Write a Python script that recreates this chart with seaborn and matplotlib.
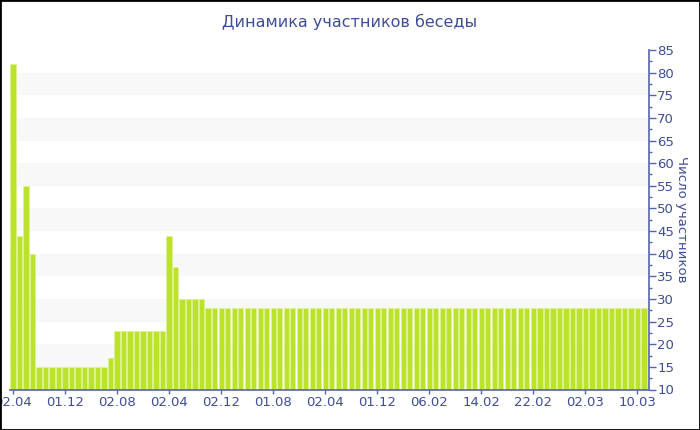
import matplotlib
matplotlib.use("Agg")
import matplotlib.pyplot as plt
import seaborn as sns
import pandas as pd
import numpy as np
from matplotlib.ticker import MultipleLocator
from matplotlib.patches import Rectangle

title = "Динамика участников беседы"
ylabel = "Число участников"

values = ([82, 44, 55, 40] + [15] * 11 + [17] + [23] * 8 + [44, 37] + [30] * 4 + [28] * 68)
tick_labels = ["02.04", "01.12", "02.08", "02.04", "02.12", "01.08", "02.04",
               "01.12", "06.02", "14.02", "22.02", "02.03", "10.03"]
tick_step = 8

sns.set_theme(style="white")
plt.rcParams['font.family'] = ['DejaVu Sans']

axis_color = "#5566a8"
text_color = "#3d4d96"
bar_color = "#bde22c"

df = pd.DataFrame({"idx": np.arange(len(values)), "value": values})

fig = plt.figure(figsize=(7, 4.3), dpi=100)
ax = fig.add_axes([10 / 700, 40.5 / 430, 639 / 700, 339.5 / 430])

# alternating bands
for lo in range(15, 85, 10):
    ax.axhspan(lo, lo + 5, color="#f8f8f8", zorder=0, lw=0)

sns.barplot(data=df, x="idx", y="value", color=bar_color, saturation=1,
            width=0.8, ax=ax, edgecolor="#dcf290", linewidth=0.5, zorder=2)

ax.set_ylim(10, 85)
ax.set_xlim(-0.45, len(values) - 1 + 0.77)
ax.yaxis.tick_right()
ax.yaxis.set_label_position("right")
ax.yaxis.set_major_locator(MultipleLocator(5))
ax.yaxis.set_minor_locator(MultipleLocator(2.5))
ax.set_xticks(np.arange(0, len(values), tick_step)[:len(tick_labels)])
ax.set_xticklabels(tick_labels)
ax.set_xlabel("")
ax.set_ylabel(ylabel, rotation=270, labelpad=10, color=text_color, fontsize=9.5)

for s in ["top", "left"]:
    ax.spines[s].set_visible(False)
for s in ["bottom", "right"]:
    ax.spines[s].set_visible(True)
    ax.spines[s].set_color(axis_color)
    ax.spines[s].set_linewidth(1.2)

ax.tick_params(axis="y", which="major", length=5, width=1, color=axis_color,
               labelcolor=text_color, labelsize=9.5, pad=1, right=True, left=False)
ax.tick_params(axis="y", which="minor", length=2.5, width=1, color=axis_color, right=True, left=False)
ax.tick_params(axis="x", which="major", length=3, width=1, color=axis_color,
               labelcolor=text_color, labelsize=9.5, pad=2, bottom=True)

fig.text(350 / 700, 1 - 22 / 430, title, ha="center", va="center",
         color=text_color, fontsize=11.5)

fig.patches.append(Rectangle((0, 0), 1, 1, transform=fig.transFigure, fill=False,
                             edgecolor="black", linewidth=2, zorder=10))

fig.savefig("out.png", dpi=100, facecolor="white")
